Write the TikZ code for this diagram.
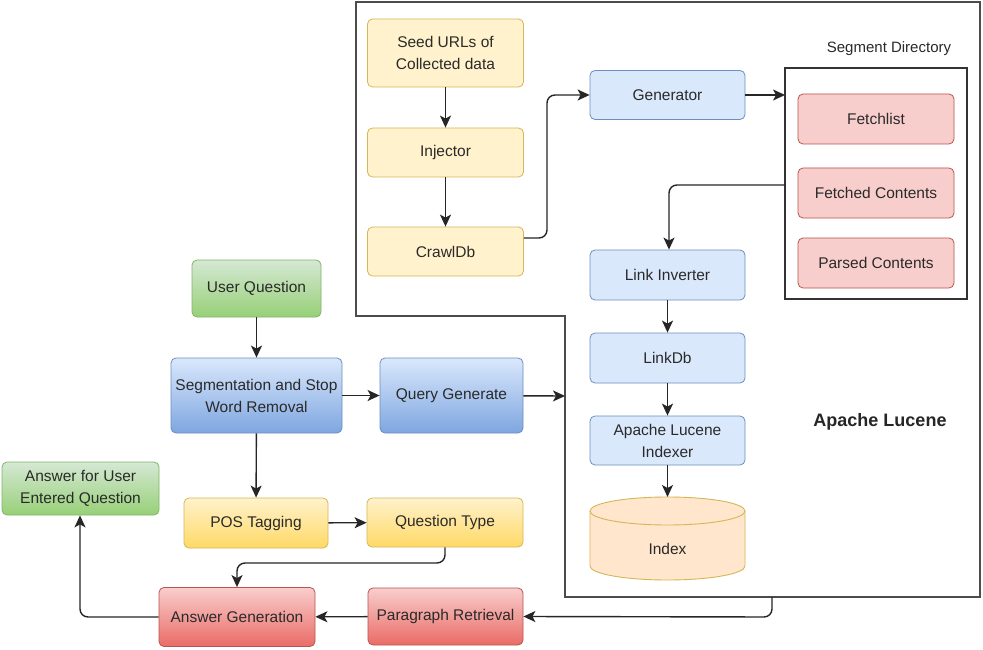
\documentclass[tikz,border=0pt]{standalone}
\usepackage{fontspec}
\setmainfont{Liberation Sans}
\usetikzlibrary{arrows.meta}
\definecolor{ylf}{HTML}{FFF2CC}\definecolor{yld}{HTML}{D6B656}
\definecolor{blf}{HTML}{DAE8FC}\definecolor{bld}{HTML}{6C8EBF}
\definecolor{rdf}{HTML}{F8CECC}\definecolor{rdd}{HTML}{B85450}
\definecolor{grf}{HTML}{D5E8D4}\definecolor{grd}{HTML}{82B366}
\definecolor{ylb}{HTML}{FFD966}\definecolor{blb}{HTML}{7EA6E0}
\definecolor{rdb}{HTML}{EA6B66}\definecolor{grb}{HTML}{97D077}
\definecolor{orf}{HTML}{FFE6CC}\definecolor{txt}{HTML}{2A2A2A}
\tikzset{
  box/.style={rounded corners=5pt, line width=0.8pt, align=center, text=txt,
    font=\fontsize{15.5}{22}\selectfont, inner sep=2pt},
  ybox/.style={box, fill=ylf, draw=yld},
  bbox/.style={box, fill=blf, draw=bld},
  rbox/.style={box, fill=rdf, draw=rdd},
  gybox/.style={box, top color=ylf, bottom color=ylb, draw=yld},
  gbbox/.style={box, top color=blf, bottom color=blb, draw=bld},
  grbox/.style={box, top color=rdf, bottom color=rdb, draw=rdd},
  ggbox/.style={box, top color=grf, bottom color=grb, draw=grd},
  conn/.style={line width=1.4pt, black!85, -{Stealth[length=12pt,width=11pt,inset=3pt]}, rounded corners=8pt},
}
\begin{document}
\begin{tikzpicture}[x=1pt,y=-1pt]
\useasboundingbox (0,0) rectangle (983,650);
\fill[white] (0,0) rectangle (983,650);
% big outline
\draw[line width=1.5pt, black!70] (356,2) -- (980,2) -- (980,597) -- (565,597) -- (565,316) -- (356,316) -- cycle;
% segment directory
\draw[line width=1.3pt, black!80] (785,68) rectangle (967,299);
\node[font=\fontsize{15}{18}\selectfont, text=txt] (segl) at (889,49) {Segment Directory};
\coordinate (segin) at (785,95);
\coordinate (segout) at (785,185);
% crawler column
\node[ybox, minimum width=156, minimum height=68] (seed) at (445.5,53) {Seed URLs of\\Collected data};
\node[ybox, minimum width=156, minimum height=49] (inj) at (445.5,152.5) {Injector};
\node[ybox, minimum width=156, minimum height=49] (crawl) at (445.5,251.5) {CrawlDb};
\node[bbox, minimum width=155, minimum height=49] (gen) at (667.5,95) {Generator};
\node[rbox, minimum width=156, minimum height=50] (fetch) at (876,119) {Fetchlist};
\node[rbox, minimum width=156, minimum height=50] (fetched) at (876,193) {Fetched Contents};
\node[rbox, minimum width=156, minimum height=50] (parsed) at (876,263) {Parsed Contents};
\node[bbox, minimum width=155, minimum height=50] (linv) at (667.5,275) {Link Inverter};
\node[bbox, minimum width=155, minimum height=50] (ldb) at (667.5,358) {LinkDb};
\node[bbox, minimum width=155, minimum height=49] (idxr) at (667.5,440.5) {Apache Lucene\\Indexer};
% cylinder
\fill[orf] (590,511) -- (590,566) arc (180:0:77.5 and 14) -- (745,511) arc (0:-180:77.5 and 14) -- cycle;
\draw[yld, line width=0.9pt] (590,511) -- (590,566) arc (180:0:77.5 and 14) -- (745,511);
\draw[yld, line width=0.9pt] (667.5,511) ellipse (77.5 and 14);
\node[box] (idx) at (667.5,549) {Index};
\coordinate (idxtop) at (667.5,497);
\node[font=\bfseries\fontsize{18}{22}\selectfont, text=black!85] (al) at (880,422) {Apache Lucene};
% QA part
\node[ggbox, minimum width=129, minimum height=57] (uq) at (256.5,288.5) {User Question};
\node[gbbox, minimum width=171, minimum height=75] (seg) at (256.5,395.5) {Segmentation and Stop\\Word Removal};
\node[gbbox, minimum width=143, minimum height=75] (qg) at (451.5,395.5) {Query Generate};
\node[ggbox, minimum width=157, minimum height=53] (ans) at (80.5,488.5) {Answer for User\\Entered Question};
\node[gybox, minimum width=144, minimum height=50] (pos) at (256,523) {POS Tagging};
\node[gybox, minimum width=156, minimum height=49] (qt) at (445,522.5) {Question Type};
\node[grbox, minimum width=156, minimum height=59] (ag) at (237,617) {Answer Generation};
\node[grbox, minimum width=155, minimum height=57] (pr) at (445.5,616.5) {Paragraph Retrieval};
\coordinate (qgend) at (565,396);
\coordinate (bigbot) at (772,597);
% connectors
\draw[conn] (seed) -- (inj);
\draw[conn] (inj) -- (crawl);
\draw[conn] (crawl.east |- 0,238) -- (547,238) -- (547,95) -- (gen.west);
\draw[conn] (gen) -- (segin);
\draw[conn] (segout) -- (669,185) -- (linv.north -| 669,0);
\draw[conn] (linv) -- (ldb);
\draw[conn] (ldb) -- (idxr);
\draw[conn] (idxr) -- (idxtop);
\draw[conn] (uq) -- (seg);
\draw[conn] (seg) -- (qg);
\draw[conn] (qg) -- (qgend);
\draw[conn] (seg) -- (pos);
\draw[conn] (pos) -- (qt);
\draw[conn] (qt.south) -- (445,563) -- (237,563) -- (ag.north);
\draw[conn] (bigbot) -- (772,617) -- (pr.east);
\draw[conn] (pr) -- (ag);
\draw[conn] (ag.west) -- (80,617) -- (ans.south -| 80,0);
\end{tikzpicture}
\end{document}
